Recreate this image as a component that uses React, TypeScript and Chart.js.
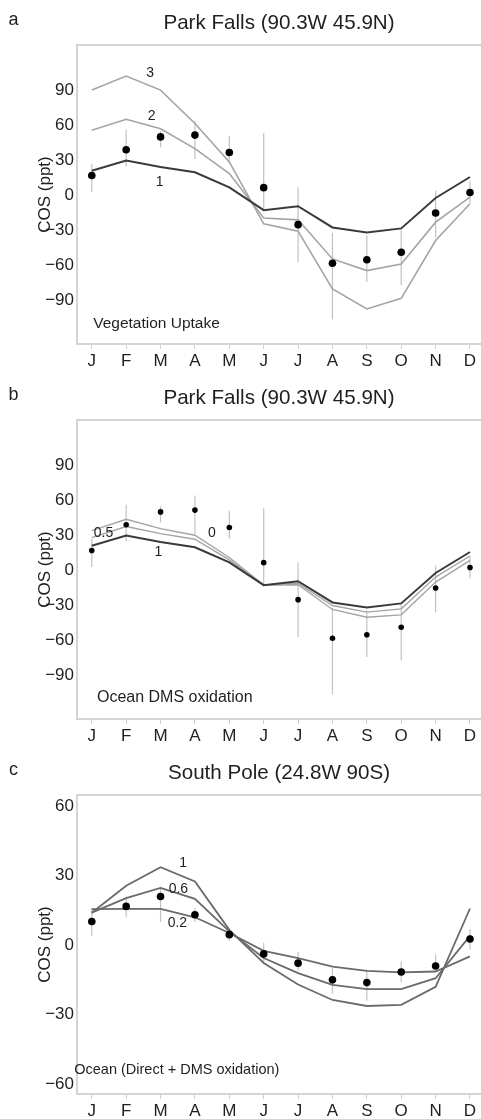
import React, { useEffect, useRef } from "react";
import { Chart, registerables } from "chart.js";

Chart.register(...registerables);

const FONT = "'Liberation Sans', Arial, Helvetica, sans-serif";
const INK = "#1f1f1f";

const months = ["J", "F", "M", "A", "M", "J", "J", "A", "S", "O", "N", "D"];

const parkFallsTicks = [-90, -60, -30, 0, 30, 60, 90];
const southPoleTicks = [-60, -30, 0, 30, 60];

// Park Falls observations (ppt) with error bar ends
const pfObs = [17, 39, 50, 51.5, 36.6, 6.6, -25, -58, -55, -48.6, -15, 2.5];
const pfObsLow = [3, 25, 41, 31, 27, -13, -57, -106, -74, -77, -36, -7];
const pfObsHigh = [27, 56, 55, 64, 51, 53, 7, -32, -34, -29, 4, 12];

// Panel a: vegetation uptake scaling 1, 2, 3
const vegUptake1 = [21, 29.7, 24.3, 19.7, 6.9, -12.6, -9.3, -27.4, -31.7, -28.2, -2.2, 15.7];
const vegUptake2 = [55.7, 65, 57, 40, 18.6, -19.4, -20.9, -54.3, -64.3, -58.6, -22.9, -1.4];
const vegUptake3 = [90, 102, 90, 61.4, 28.6, -24.3, -30.6, -80, -97, -88, -38.6, -7.1];

// Panel b: ocean DMS oxidation 1, 0.5, 0
const dms1 = vegUptake1;
const dms05 = [28, 37.5, 31.4, 26.6, 9, -12.5, -10.9, -30, -35.7, -32.9, -5.7, 12.3];
const dms0 = [34, 43.7, 35.7, 30, 11, -12.5, -12.3, -33.4, -40, -38, -10, 8.6];

// South Pole observations
const spObs = [10.2, 16.7, 21, 13.1, 4.5, -3.8, -7.8, -15, -16.2, -11.6, -9, 2.6];
const spObsLow = [4, 12, 10, 10, 2, -8, -11, -21, -24, -16, -11, -2];
const spObsHigh = [16, 21, 25, 16, 7, 1, -3, -10, -11, -7, -4, 7];

// Panel c: ocean direct + DMS oxidation 1, 0.6, 0.2
const ocean1 = [14, 25.6, 33.6, 27.5, 6.6, -7.7, -17, -23.7, -26.3, -25.8, -18, 15.8];
const ocean06 = [14, 20.3, 24.7, 20, 5.9, -5.6, -12.1, -17.2, -19, -19, -14.3, 4];
const ocean02 = [15.5, 15.6, 15.6, 12, 5.2, -2.5, -5.6, -9.3, -11.1, -11.8, -11.4, -4.9];

type Line = { data: number[]; color: string; width: number };
type Label = { text: string; x: number; y: number };
type Panel = {
  letter: string;
  title: string;
  top: number;
  height: number;
  yMin: number;
  yMax: number;
  yTicks: number[];
  obs: number[];
  low: number[];
  high: number[];
  dot: number;
  lines: Line[];
  labels: Label[];
  note: { text: string; x: number; y: number; size: number };
};

const DARK = "#3a3a3a";
const LIGHT = "#a4a4a4";
const MID = "#6a6a6a";

const panels: Panel[] = [
  {
    letter: "a",
    title: "Park Falls (90.3W 45.9N)",
    top: 0,
    height: 375,
    yMin: -127,
    yMax: 128.5,
    yTicks: parkFallsTicks,
    obs: pfObs,
    low: pfObsLow,
    high: pfObsHigh,
    dot: 3.8,
    lines: [
      { data: vegUptake1, color: DARK, width: 2 },
      { data: vegUptake2, color: LIGHT, width: 1.6 },
      { data: vegUptake3, color: LIGHT, width: 1.6 },
    ],
    labels: [
      { text: "3", x: 1.7, y: 104.3 },
      { text: "2", x: 1.74, y: 67.7 },
      { text: "1", x: 1.97, y: 11.4 },
    ],
    note: { text: "Vegetation Uptake", x: 0.04, y: -109.5, size: 15.5 },
  },
  {
    letter: "b",
    title: "Park Falls (90.3W 45.9N)",
    top: 375,
    height: 375,
    yMin: -127,
    yMax: 128.5,
    yTicks: parkFallsTicks,
    obs: pfObs,
    low: pfObsLow,
    high: pfObsHigh,
    dot: 2.8,
    lines: [
      { data: dms1, color: DARK, width: 2 },
      { data: dms05, color: LIGHT, width: 1.4 },
      { data: dms0, color: LIGHT, width: 1.4 },
    ],
    labels: [
      { text: "0.5", x: 0.34, y: 31.5 },
      { text: "0", x: 3.49, y: 31.5 },
      { text: "1", x: 1.94, y: 15.7 },
    ],
    note: { text: "Ocean DMS oxidation", x: 0.15, y: -108.6, size: 16 },
  },
  {
    letter: "c",
    title: "South Pole (24.8W 90S)",
    top: 750,
    height: 369,
    yMin: -64.3,
    yMax: 64.8,
    yTicks: southPoleTicks,
    obs: spObs,
    low: spObsLow,
    high: spObsHigh,
    dot: 3.8,
    lines: [
      { data: ocean1, color: MID, width: 1.8 },
      { data: ocean06, color: MID, width: 1.8 },
      { data: ocean02, color: MID, width: 1.8 },
    ],
    labels: [
      { text: "1", x: 2.66, y: 35.5 },
      { text: "0.6", x: 2.52, y: 24.3 },
      { text: "0.2", x: 2.49, y: 9.6 },
    ],
    note: { text: "Ocean (Direct + DMS oxidation)", x: -0.51, y: -54, size: 14.5 },
  },
];

const PLOT_BOTTOM = 344;
const PLOT_LEFT = 77;
const X_MIN = -0.43;
const X_MAX = 11.32;

function fmtTick(v: number) {
  return v < 0 ? "\u2212" + Math.abs(v) : String(v);
}

function makePlugin(p: Panel) {
  return {
    id: "panel_" + p.letter,
    beforeDatasetsDraw(chart: any) {
      const ctx = chart.ctx;
      const xs = chart.scales.x;
      const ys = chart.scales.y;
      const area = chart.chartArea;
      ctx.save();
      // top frame line
      ctx.strokeStyle = "#d4d4d4";
      ctx.lineWidth = 2;
      ctx.beginPath();
      ctx.moveTo(area.left - 1, area.top);
      ctx.lineTo(area.right, area.top);
      ctx.stroke();
      // error bars
      ctx.strokeStyle = "#c2c2c2";
      ctx.lineWidth = 1.2;
      p.low.forEach((l, i) => {
        const px = xs.getPixelForValue(i);
        ctx.beginPath();
        ctx.moveTo(px, ys.getPixelForValue(l));
        ctx.lineTo(px, ys.getPixelForValue(p.high[i]));
        ctx.stroke();
      });
      ctx.restore();
    },
    afterDatasetsDraw(chart: any) {
      const ctx = chart.ctx;
      const xs = chart.scales.x;
      const ys = chart.scales.y;
      ctx.save();
      ctx.fillStyle = INK;
      ctx.textBaseline = "middle";
      ctx.textAlign = "center";
      ctx.font = `14px ${FONT}`;
      p.labels.forEach((lb) => {
        ctx.fillText(lb.text, xs.getPixelForValue(lb.x), ys.getPixelForValue(lb.y));
      });
      ctx.textAlign = "left";
      ctx.font = `${p.note.size}px ${FONT}`;
      ctx.fillText(p.note.text, xs.getPixelForValue(p.note.x), ys.getPixelForValue(p.note.y));
      ctx.restore();
    },
    afterDraw(chart: any) {
      const ctx = chart.ctx;
      ctx.save();
      ctx.fillStyle = INK;
      ctx.textBaseline = "middle";
      ctx.textAlign = "center";
      ctx.font = `18px ${FONT}`;
      ctx.fillText(p.letter, 13.5, 20);
      ctx.restore();
    },
  };
}

function buildChart(canvas: HTMLCanvasElement, p: Panel) {
  const tickFont = { family: FONT, size: 17 };
  const datasets: any[] = [
    {
      data: p.obs.map((v, i) => ({ x: i, y: v })),
      showLine: false,
      pointRadius: p.dot,
      pointBackgroundColor: "#000",
      pointBorderWidth: 0,
      borderWidth: 0,
    },
    ...p.lines.map((ln) => ({
      data: ln.data.map((v, i) => ({ x: i, y: v })),
      borderColor: ln.color,
      borderWidth: ln.width,
      pointRadius: 0,
      tension: 0,
      fill: false,
    })),
  ];
  return new Chart(canvas, {
    type: "line",
    data: { datasets },
    options: {
      animation: false,
      responsive: false,
      devicePixelRatio: 1,
      layout: { autoPadding: false, padding: { top: 0, left: 0, right: 0, bottom: 0 } },
      plugins: {
        legend: { display: false },
        tooltip: { enabled: false },
        title: {
          display: true,
          text: p.title,
          fullSize: false,
          color: INK,
          font: { family: FONT, size: 20.6, weight: "normal" },
          padding: { top: 11, bottom: 9.3 },
        },
      },
      scales: {
        x: {
          type: "linear",
          min: X_MIN,
          max: X_MAX,
          grid: {
            display: true,
            drawOnChartArea: false,
            drawTicks: true,
            tickLength: 5,
            color: "#cfcfcf",
          },
          border: { display: true, color: "#d4d4d4", width: 2 },
          ticks: {
            font: tickFont,
            color: INK,
            padding: 2,
            autoSkip: false,
            maxRotation: 0,
            callback: (v: any) => months[Math.round(Number(v))] ?? "",
          },
          afterBuildTicks: (scale: any) => {
            scale.ticks = months.map((_, i) => ({ value: i }));
          },
          afterFit: (scale: any) => {
            scale.height = p.height - PLOT_BOTTOM;
            scale.paddingLeft = 0;
            scale.paddingRight = 0;
            scale.paddingTop = 0;
            scale.paddingBottom = 0;
          },
        },
        y: {
          type: "linear",
          min: p.yMin,
          max: p.yMax,
          grid: { display: false, drawTicks: false },
          border: { display: true, color: "#d4d4d4", width: 2 },
          ticks: {
            font: tickFont,
            color: INK,
            padding: 3,
            callback: (v: any) => fmtTick(Number(v)),
          },
          afterBuildTicks: (scale: any) => {
            scale.ticks = p.yTicks.map((v) => ({ value: v }));
          },
          afterFit: (scale: any) => {
            scale.width = PLOT_LEFT;
            scale.paddingLeft = 0;
            scale.paddingRight = 0;
            scale.paddingTop = 0;
            scale.paddingBottom = 0;
          },
          title: {
            display: true,
            text: "COS (ppt)",
            color: INK,
            font: { family: FONT, size: 17 },
            padding: { top: 35, bottom: 0 },
          },
        },
      },
    },
    plugins: [makePlugin(p)],
  } as any);
}

export default function App() {
  const refs = [
    useRef<HTMLCanvasElement>(null),
    useRef<HTMLCanvasElement>(null),
    useRef<HTMLCanvasElement>(null),
  ];
  useEffect(() => {
    const charts = panels.map((p, i) => buildChart(refs[i].current as HTMLCanvasElement, p));
    return () => charts.forEach((c) => c.destroy());
  }, []);
  return (
    <div
      style={{
        position: "absolute",
        left: 0,
        top: 0,
        width: 481,
        height: 1119,
        background: "#fff",
        overflow: "hidden",
      }}
    >
      {panels.map((p, i) => (
        <canvas
          key={p.letter}
          ref={refs[i]}
          width={481}
          height={p.height}
          style={{ position: "absolute", left: 0, top: p.top, display: "block" }}
        />
      ))}
    </div>
  );
}
